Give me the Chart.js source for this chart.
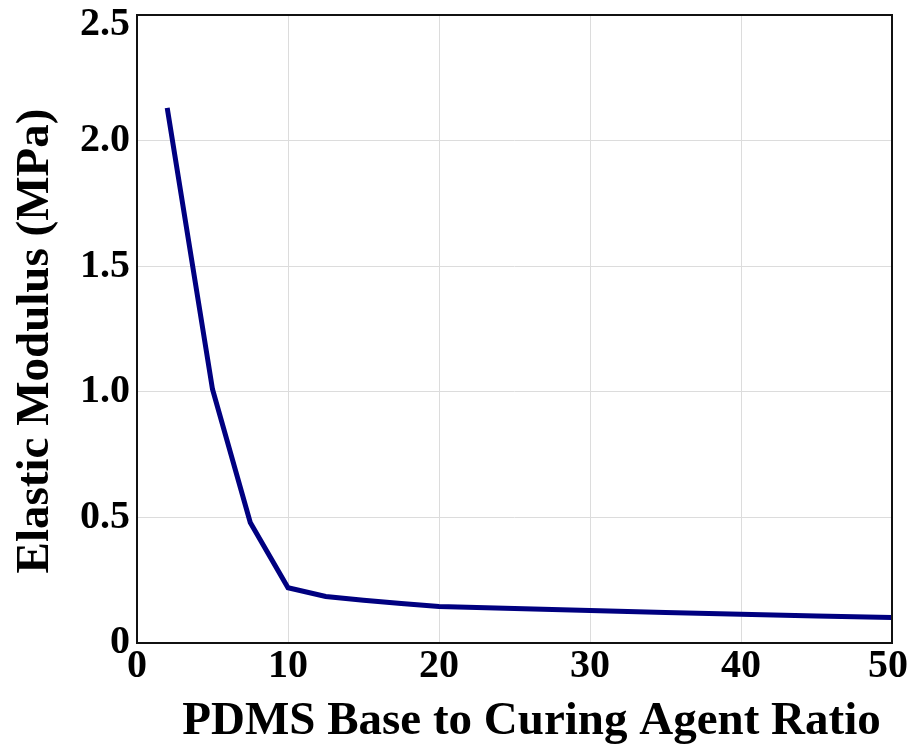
<!DOCTYPE html>
<html>
<head>
<meta charset="utf-8">
<script src="https://cdn.jsdelivr.net/npm/chart.js@4"></script>
<style>
html,body{margin:0;padding:0;background:#fff;}
#wrap{width:913px;height:745px;position:relative;}
</style>
</head>
<body>
<div id="wrap"><canvas id="c" width="913" height="745"></canvas></div>
<script>
const ratios = [2, 5, 7.5, 10, 12.5, 15, 17.5, 20, 25, 30, 35, 40, 45, 50];
const modulus = [2.13, 1.01, 0.48, 0.22, 0.185, 0.17, 0.157, 0.145, 0.137, 0.129, 0.121, 0.114, 0.107, 0.102];
const xTickLabels = ['0', '10', '20', '30', '40', '50'];
const yTickLabels = ['0', '0.5', '1.0', '1.5', '2.0', '2.5'];
const xTitle = 'PDMS Base to Curing Agent Ratio';
const yTitle = 'Elastic Modulus (MPa)';

const titleFontCss = 'bold 47px "Liberation Serif"';

const frame = {
  id: 'frame',
  beforeDraw(chart) {
    // nudge the top y tick label down so it sits inside the canvas, as in the reference
    const ys = chart.scales.y;
    ys.getLabelItems().forEach(it => {
      if (it.label === yTickLabels[yTickLabels.length - 1]) {
        it.options.translation[1] = chart.chartArea.top + 10;
      }
    });
    const xs = chart.scales.x;
    xs.getLabelItems().forEach(it => {
      if (it.label === xTickLabels[xTickLabels.length - 1]) {
        it.options.translation[0] -= 4;
      }
    });
  },
  afterDatasetsDraw(chart) {
    const {ctx, chartArea: a} = chart;
    ctx.save();
    ctx.strokeStyle = '#111';
    ctx.lineWidth = 2;
    ctx.strokeRect(a.left, a.top, a.right - a.left, a.bottom - a.top);
    ctx.restore();
  },
  afterDraw(chart) {
    const {ctx, chartArea: a} = chart;
    ctx.save();
    ctx.fillStyle = '#000';
    ctx.font = titleFontCss;
    ctx.textAlign = 'center';
    ctx.textBaseline = 'alphabetic';
    ctx.fillText(xTitle, (a.left + a.right) / 2 + 17, 734);
    ctx.translate(48, (a.top + a.bottom) / 2 + 12);
    ctx.rotate(-Math.PI / 2);
    ctx.fillText(yTitle, 0, 0);
    ctx.restore();
  }
};

const tickFont = {family: 'Liberation Serif', weight: 'bold', size: 40, lineHeight: 1.2};

new Chart(document.getElementById('c'), {
  type: 'line',
  data: {
    datasets: [{
      data: ratios.map((x, i) => ({x: x, y: modulus[i]})),
      borderColor: '#000080',
      borderWidth: 5,
      pointRadius: 0,
      fill: false,
      tension: 0
    }]
  },
  options: {
    responsive: false,
    animation: false,
    devicePixelRatio: 1,
    layout: {padding: {left: 0, right: 21, top: 15, bottom: 0}},
    plugins: {legend: {display: false}, tooltip: {enabled: false}},
    scales: {
      x: {
        type: 'linear', min: 0, max: 50,
        ticks: {stepSize: 10, color: '#000', font: tickFont, padding: 0, maxRotation: 0,
          callback: (v) => { const i = Math.round(v / 10); return xTickLabels[i] ?? ''; }},
        grid: {color: '#dcdcdc', lineWidth: 1, drawTicks: false},
        border: {display: false},
        title: {display: false},
        afterFit: (s) => { s.height = 102; s.paddingLeft = 0; s.paddingRight = 0; }
      },
      y: {
        type: 'linear', min: 0, max: 2.5,
        ticks: {stepSize: 0.5, color: '#000', font: tickFont, padding: 7,
          callback: (v) => { const i = Math.round(v / 0.5); return yTickLabels[i] ?? ''; }},
        grid: {color: '#dcdcdc', lineWidth: 1, drawTicks: false},
        border: {display: false},
        title: {display: false},
        afterFit: (s) => { s.width = 137; s.paddingTop = 0; s.paddingBottom = 0; }
      }
    }
  },
  plugins: [frame]
});
</script>
</body>
</html>
